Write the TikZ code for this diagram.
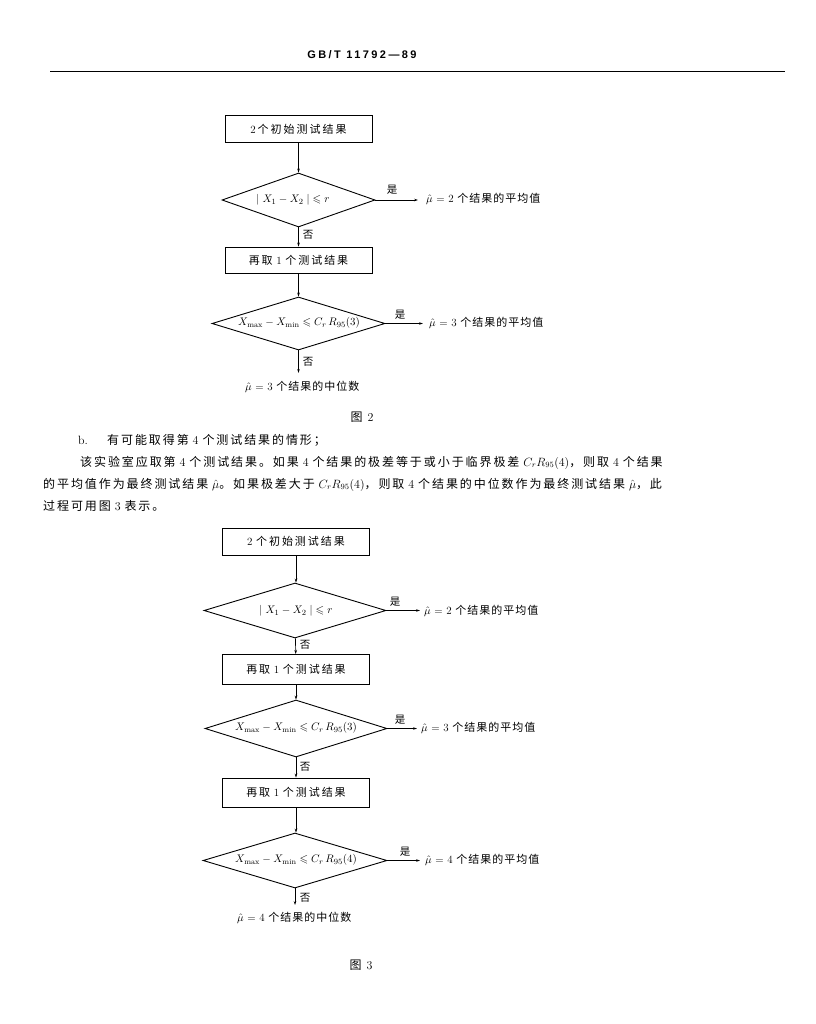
\documentclass[tikz,border=0pt]{standalone}
\usepackage{amsmath,amssymb}
\usepackage{fontspec}
\newfontfamily\cjk{Noto Sans CJK SC}
\newfontfamily\cjkw[LetterSpace=18]{Noto Sans CJK SC}
\newfontfamily\cjkr[LetterSpace=9]{Noto Sans CJK SC}
\newfontfamily\cjkp[LetterSpace=16]{Noto Sans CJK SC}
\newfontfamily\hdrfont[LetterSpace=22]{Liberation Sans}
\newcommand\zh[1]{{\cjkw #1}}
\newcommand\zr[1]{{\cjkr #1}}
\newcommand\zp[1]{{\cjkp #1}}
\usetikzlibrary{shapes.geometric,arrows.meta}
\begin{document}
\begin{tikzpicture}[x=1pt,y=-1pt,
  boxnode/.style={draw,line width=0.9pt,minimum width=147pt,inner sep=0pt,font=\fontsize{11}{13}\selectfont},
  dianode/.style={draw,diamond,line width=0.9pt,inner sep=0pt},
  dtext/.style={inner sep=0pt,font=\fontsize{11}{13}\selectfont},
  conn/.style={line width=0.7pt,-{Stealth[length=4pt,width=2.6pt]}},
  yesline/.style={line width=0.8pt,-{Stealth[length=4pt,width=2.6pt]}},
  lbl/.style={inner sep=0pt,font=\fontsize{10.5}{12}\selectfont\cjk},
  res/.style={anchor=west,inner sep=0pt,text height=8pt,text depth=2pt,font=\fontsize{11}{13}\selectfont},
  para/.style={anchor=west,inner sep=0pt,text height=8.5pt,text depth=2.5pt,font=\fontsize{12}{14}\selectfont},
  capnode/.style={inner sep=0pt,font=\fontsize{12}{14}\selectfont}
]
\useasboundingbox (0,0) rectangle (815,1024);

% header
\node[inner sep=0pt,font=\fontsize{11}{13}\selectfont\hdrfont\bfseries] (hdr) at (362,55) {GB/T 11792—89};
\coordinate (hl) at (50,72);
\coordinate (hr) at (785,72);
\draw[line width=1pt] (hl) -- (hr);

% ---------- Figure 2 ----------
\node[boxnode,minimum height=27pt] (a1) at (298.5,129) {2\,\zh{个初始测试结果}};
\node[dianode,minimum width=153pt,minimum height=54pt] (ad1) at (298.5,200) {};
\node[dtext] (ad1t) at (293,200) {$|\;X_1 - X_2\;| \leqslant r$};
\coordinate (ay1) at (418,200);
\node[lbl] (ays1) at (392,190) {是};
\node[res] (ar1) at (426,200) {$\hat{\mu}$ = 2 \zr{个结果的平均值}};
\node[lbl] (an1) at (308,235) {否};
\node[boxnode,minimum height=26pt] (a2) at (298.5,260) {\zh{再取} 1 \zh{个测试结果}};
\node[dianode,minimum width=173pt,minimum height=53pt] (ad2) at (298.5,323.5) {};
\node[dtext] (ad2t) at (299,323) {$X_{\mathrm{max}} - X_{\mathrm{min}} \leqslant C_r\,R_{95}(3)$};
\coordinate (ay2) at (423,323.5);
\node[lbl] (ays2) at (400,315) {是};
\node[res] (ar2) at (429,323.5) {$\hat{\mu}$ = 3 \zr{个结果的平均值}};
\node[lbl] (an2) at (308,362) {否};
\coordinate (ae2) at (298.5,373);
\node[res] (af2) at (245,387) {$\hat{\mu}$ = 3 \zr{个结果的中位数}};
\node[capnode] (cap2) at (362,417) {{\cjk 图}\hspace{5pt}2};

\draw[conn] (a1) -- (ad1);
\draw[yesline] (ad1.east) -- (ay1);
\draw[conn] (ad1) -- (a2);
\draw[conn] (a2) -- (ad2);
\draw[yesline] (ad2.east) -- (ay2);
\draw[conn] (ad2.south) -- (ae2);

% ---------- paragraph ----------
\node[para] (pb) at (78,441) {b.};
\node[para] (p1) at (107,441) {\zp{有可能取得第} 4 \zp{个测试结果的情形；}};
\node[para] (p2) at (80,463) {\zp{该实验室应取第} 4 \zp{个测试结果。如果} 4 \zp{个结果的极差等于或小于临界极差} $C_rR_{95}(4)$\zp{，则取} 4 \zp{个结果}};
\node[para] (p3) at (43,485) {\zp{的平均值作为最终测试结果} $\hat{\mu}$\zp{。如果极差大于} $C_rR_{95}(4)$\zp{，则取} 4 \zp{个结果的中位数作为最终测试结果} $\hat{\mu}$\zp{，此}};
\node[para] (p4) at (43,507) {\zp{过程可用图} 3 \zp{表示。}};

% ---------- Figure 3 ----------
\node[boxnode,minimum height=27pt] (b1) at (296,541.5) {2 \zh{个初始测试结果}};
\node[dianode,minimum width=182pt,minimum height=55pt] (bd1) at (295,610.5) {};
\node[dtext] (bd1t) at (296,611) {$|\;X_1 - X_2\;| \leqslant r$};
\coordinate (by1) at (420,610.5);
\node[lbl] (bys1) at (395,602) {是};
\node[res] (br1) at (424,611) {$\hat{\mu}$ = 2 \zr{个结果的平均值}};
\node[lbl] (bn1) at (305,645) {否};
\node[boxnode,minimum height=30pt] (b2) at (296,669.5) {\zh{再取} 1 \zh{个测试结果}};
\node[dianode,minimum width=182pt,minimum height=57pt] (bd2) at (296,728.5) {};
\node[dtext] (bd2t) at (296,728) {$X_{\mathrm{max}} - X_{\mathrm{min}} \leqslant C_r\,R_{95}(3)$};
\coordinate (by2) at (417,728.5);
\node[lbl] (bys2) at (400,720) {是};
\node[res] (br2) at (421,728.5) {$\hat{\mu}$ = 3 \zr{个结果的平均值}};
\node[lbl] (bn2) at (305,767) {否};
\node[boxnode,minimum height=29pt] (b3) at (296,792.5) {\zh{再取} 1 \zh{个测试结果}};
\node[dianode,minimum width=184pt,minimum height=55pt] (bd3) at (295,860.5) {};
\node[dtext] (bd3t) at (296,860) {$X_{\mathrm{max}} - X_{\mathrm{min}} \leqslant C_r\,R_{95}(4)$};
\coordinate (by3) at (420,860.5);
\node[lbl] (bys3) at (405,852) {是};
\node[res] (br3) at (425,860.5) {$\hat{\mu}$ = 4 \zr{个结果的平均值}};
\node[lbl] (bn3) at (305,898) {否};
\coordinate (be3) at (295,905);
\node[res] (bf3) at (237,918) {$\hat{\mu}$ = 4 \zr{个结果的中位数}};
\node[capnode] (cap3) at (361,965) {{\cjk 图}\hspace{5pt}3};

\draw[conn] (b1) -- (b1 |- bd1.north);
\draw[conn] (bd1) -- (b2);
\draw[yesline] (bd1.east) -- (by1);
\draw[conn] (b2) -- (b2 |- bd2.north);
\draw[yesline] (bd2.east) -- (by2);
\draw[conn] (bd2) -- (b3);
\draw[conn] (b3) -- (b3 |- bd3.north);
\draw[yesline] (bd3.east) -- (by3);
\draw[conn] (bd3.south) -- (be3);
\end{tikzpicture}
\end{document}
